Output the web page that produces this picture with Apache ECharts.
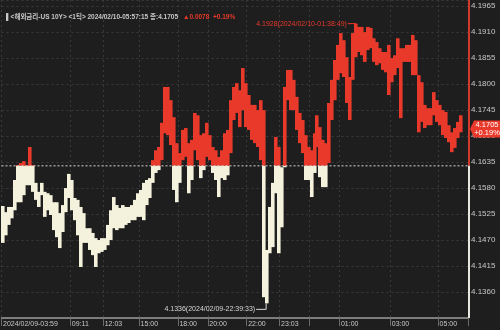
<!DOCTYPE html>
<html><head><meta charset="utf-8">
<script src="https://cdn.jsdelivr.net/npm/echarts@6/dist/echarts.min.js"></script>
<style>html,body{margin:0;padding:0;background:#1e1e1e}#c{width:500px;height:330px}</style>
</head><body><div id="c"></div>
<script>
// per-bucket (3px time bucket) high and low of the tick line
const highs = [
4.1542,4.1529,4.1540,4.1540,4.1597,4.1629,4.1633,4.1637,4.1629,4.1667,
4.1629,4.1591,4.1572,4.1591,4.1572,4.1569,4.1565,4.1550,4.1550,4.1527,
4.1544,4.1580,4.1610,4.1597,4.1559,4.1555,4.1540,4.1527,4.1495,4.1495,
4.1485,4.1474,4.1470,4.1474,4.1474,4.1502,4.1533,4.1561,4.1544,4.1538,
4.1544,4.1540,4.1540,4.1544,4.1555,4.1569,4.1576,4.1591,4.1597,4.1601,
4.1639,4.1660,4.1667,4.1718,4.1794,4.1794,4.1766,4.1730,4.1675,4.1654,
4.1703,4.1707,4.1675,4.1682,4.1739,4.1734,4.1692,4.1696,4.1718,4.1692,
4.1667,4.1660,4.1646,4.1660,4.1696,4.1703,4.1766,4.1794,4.1802,4.1787,
4.1834,4.1802,4.1777,4.1756,4.1756,4.1745,4.1766,4.1745,4.1449,4.1540,
4.1591,4.1688,4.1667,4.1624,4.1794,4.1830,4.1830,4.1809,4.1773,4.1739,
4.1724,4.1692,4.1667,4.1660,4.1696,4.1734,4.1709,4.1682,4.1675,4.1760,
4.1809,4.1851,4.1883,4.1908,4.1893,4.1857,4.1815,4.1908,4.1928,4.1921,
4.1921,4.1910,4.1921,4.1919,4.1897,4.1889,4.1876,4.1868,4.1868,4.1883,
4.1855,4.1861,4.1897,4.1876,4.1876,4.1883,4.1883,4.1904,4.1893,4.1819,
4.1804,4.1756,4.1749,4.1749,4.1783,4.1766,4.1756,4.1745,4.1741,4.1713,
4.1698,4.1707,4.1720,4.1734];
const lows = [
4.1464,4.1480,4.1502,4.1516,4.1533,4.1550,4.1550,4.1565,4.1586,4.1586,
4.1572,4.1555,4.1540,4.1565,4.1519,4.1533,4.1523,4.1491,4.1476,4.1453,
4.1487,4.1529,4.1559,4.1533,4.1512,4.1480,4.1413,4.1464,4.1464,4.1449,
4.1438,4.1413,4.1442,4.1445,4.1449,4.1459,4.1470,4.1495,4.1491,4.1495,
4.1495,4.1502,4.1506,4.1512,4.1512,4.1519,4.1519,4.1512,4.1544,4.1559,
4.1591,4.1612,4.1618,4.1639,4.1696,4.1692,4.1671,4.1576,4.1550,4.1591,
4.1639,4.1646,4.1569,4.1597,4.1660,4.1639,4.1601,4.1618,4.1646,4.1639,
4.1612,4.1597,4.1561,4.1601,4.1597,4.1607,4.1654,4.1724,4.1739,4.1709,
4.1745,4.1709,4.1703,4.1682,4.1675,4.1667,4.1639,4.1349,4.1336,4.1442,
4.1455,4.1569,4.1442,4.1497,4.1629,4.1766,4.1745,4.1745,4.1703,4.1675,
4.1654,4.1597,4.1597,4.1561,4.1612,4.1667,4.1603,4.1582,4.1582,4.1633,
4.1724,4.1766,4.1809,4.1823,4.1815,4.1760,4.1724,4.1809,4.1857,4.1868,
4.1861,4.1847,4.1872,4.1876,4.1847,4.1840,4.1844,4.1830,4.1825,4.1777,
4.1804,4.1819,4.1834,4.1728,4.1847,4.1847,4.1847,4.1819,4.1819,4.1698,
4.1720,4.1707,4.1713,4.1713,4.1734,4.1720,4.1713,4.1692,4.1686,4.1677,
4.1656,4.1665,4.1686,4.1698];
const bucketCount = 156;
const xTickIdx = [0, 23, 34, 46, 59, 69, 82, 93, 103, 113, 130, 146];
const xTickLabels = ['2024/02/09-03:59','09:11','12:03','15:00','18:00','20:00','22:00','23:03','','01:00','03:00','05:00'];
const prevClose = 4.1627;
const lastValue = 4.1705;
const changeAbs = '0.0078';
const changePct = '+0.19%';
const highPoint = [118, 4.1928];
const highTime = '2024/02/10-01:38:49';
const lowPoint = [88, 4.1336];
const lowTime = '2024/02/09-22:39:33';
const yMin = 4.1305, yMax = 4.1978, yStep = 0.0055;

const RED = '#e8392b', CREAM = '#f4f2dc', TXT = '#c8c8c8', GRID = '#3a3a3a';
const FONT = "'Liberation Sans','Noto Sans CJK KR',sans-serif";
const cats = Array.from({length: bucketCount}, (_, i) => String(i));
const isTick = (i) => xTickIdx.indexOf(i) >= 0;

function txt(x, y, s, fill, size, align) {
  return { type: 'text', x: x, y: y, style: { text: s, fill: fill, fontSize: size, fontFamily: FONT,
    align: align, verticalAlign: 'middle', textAlign: align, textVerticalAlign: 'middle' } };
}

const chart = echarts.init(document.getElementById('c'));
chart.setOption({
  animation: false,
  backgroundColor: '#1e1e1e',
  title: {
    left: 1, top: 3,
    text: '{w|▌<해외금리-US 10Y> <1틱> 2024/02/10-05:57:15 종:' + lastValue.toFixed(4) + '} {r|▲' + changeAbs + '  ' + changePct + '}',
    textStyle: { rich: {
      w: { color: TXT, fontSize: 6.5, fontFamily: FONT },
      r: { color: RED, fontSize: 6.5, fontFamily: FONT }
    }}
  },
  grid: { left: 0, right: 32, top: 0, bottom: 12 },
  xAxis: {
    type: 'category', data: cats, boundaryGap: true,
    axisLine: { lineStyle: { color: '#9a9a9a', width: 1.5 } },
    axisTick: { show: true, interval: (i) => isTick(i), length: 8, lineStyle: { color: '#6a6a6a' } },
    axisLabel: { interval: (i) => isTick(i), formatter: (v, i) => xTickLabels[xTickIdx.indexOf(i)] || '',
      align: 'left', color: TXT, fontSize: 7, margin: 3, fontFamily: FONT },
    splitLine: { show: true, interval: (i) => isTick(i), lineStyle: { color: GRID, type: [2, 3] } }
  },
  yAxis: {
    type: 'value', position: 'right', min: yMin, max: yMax, interval: yStep,
    axisLine: { show: false }, axisTick: { show: false },
    axisLabel: { color: TXT, fontSize: 8, margin: 3, fontFamily: FONT,
      formatter: (v) => (v <= yMin + 1e-7 || v >= yMax - 1e-7) ? '' : v.toFixed(4) },
    splitLine: { lineStyle: { color: GRID, type: [2, 3] } }
  },
  series: [
    {
      type: 'custom', silent: true,
      data: highs.map((h, i) => [i, lows[i], h]),
      encode: { x: 0, y: [1, 2] },
      renderItem: function (params, api) {
        const i = api.value(0);
        let lo = api.value(1), hi = api.value(2);
        // the price path is continuous: join each bucket to the previous one
        if (i > 0) { hi = Math.max(hi, lows[i - 1]); lo = Math.min(lo, highs[i - 1]); }
        const w = api.size([1, 0])[0];
        const cx = api.coord([i, hi])[0];
        const x0 = Math.round(cx - w / 2);
        const yHi = api.coord([i, hi])[1], yLo = api.coord([i, lo])[1], yB = api.coord([i, prevClose])[1];
        const ch = [];
        if (hi > prevClose) {
          const bot = lo > prevClose ? yLo : yB;
          ch.push({ type: 'rect', shape: { x: x0, y: yHi, width: w + 0.6, height: Math.max(1, bot - yHi) }, style: { fill: RED } });
        }
        if (lo < prevClose) {
          const top = hi < prevClose ? yHi : yB;
          ch.push({ type: 'rect', shape: { x: x0, y: top, width: w + 0.6, height: Math.max(1, yLo - top) }, style: { fill: CREAM } });
        }
        return { type: 'group', children: ch };
      },
      z: 3
    },
    {
      // overlay: previous-close line, coloured price axis, last-price tag, high/low notes
      type: 'custom', silent: true, data: [[0, prevClose]], clip: false,
      renderItem: function (params, api) {
        const cs = params.coordSys;
        const xr = cs.x + cs.width + 1;
        const yb = api.coord([0, prevClose])[1];
        const yl = api.coord([0, lastValue])[1];
        const ph = api.coord(highPoint), pl = api.coord(lowPoint);
        return { type: 'group', children: [
          { type: 'line', shape: { x1: cs.x, y1: yb, x2: cs.x + cs.width, y2: yb }, style: { stroke: '#d8d8d8', lineWidth: 1, lineDash: [2, 2] } },
          { type: 'line', shape: { x1: xr, y1: cs.y, x2: xr, y2: yb }, style: { stroke: '#d23a2c', lineWidth: 2 } },
          { type: 'line', shape: { x1: xr, y1: yb, x2: xr, y2: cs.y + cs.height }, style: { stroke: '#e8e8e0', lineWidth: 2 } },
          { type: 'polygon', shape: { points: [[xr + 1, yl], [xr + 5, yl - 8.5], [xr + 32, yl - 8.5], [xr + 32, yl + 8.5], [xr + 5, yl + 8.5]] }, style: { fill: RED } },
          txt(xr + 18, yl - 3.8, lastValue.toFixed(4), '#ffffff', 7.5, 'center'),
          txt(xr + 18, yl + 4.2, changePct, '#ffffff', 7.5, 'center'),
          { type: 'polyline', shape: { points: [[ph[0] - 8, ph[1]], [ph[0], ph[1]], [ph[0], ph[1] + 4]] }, style: { stroke: RED, lineWidth: 1, fill: null } },
          txt(ph[0] - 9, ph[1], highPoint[1].toFixed(4) + '(' + highTime + ')', RED, 7, 'right'),
          { type: 'polyline', shape: { points: [[pl[0] - 10, pl[1] + 6], [pl[0], pl[1] + 6], [pl[0], pl[1]]] }, style: { stroke: '#d8d8d8', lineWidth: 1, fill: null } },
          txt(pl[0] - 11, pl[1] + 6, lowPoint[1].toFixed(4) + '(' + lowTime + ')', '#d8d8d8', 7, 'right')
        ]};
      },
      z: 5
    }
  ]
});
</script></body></html>
